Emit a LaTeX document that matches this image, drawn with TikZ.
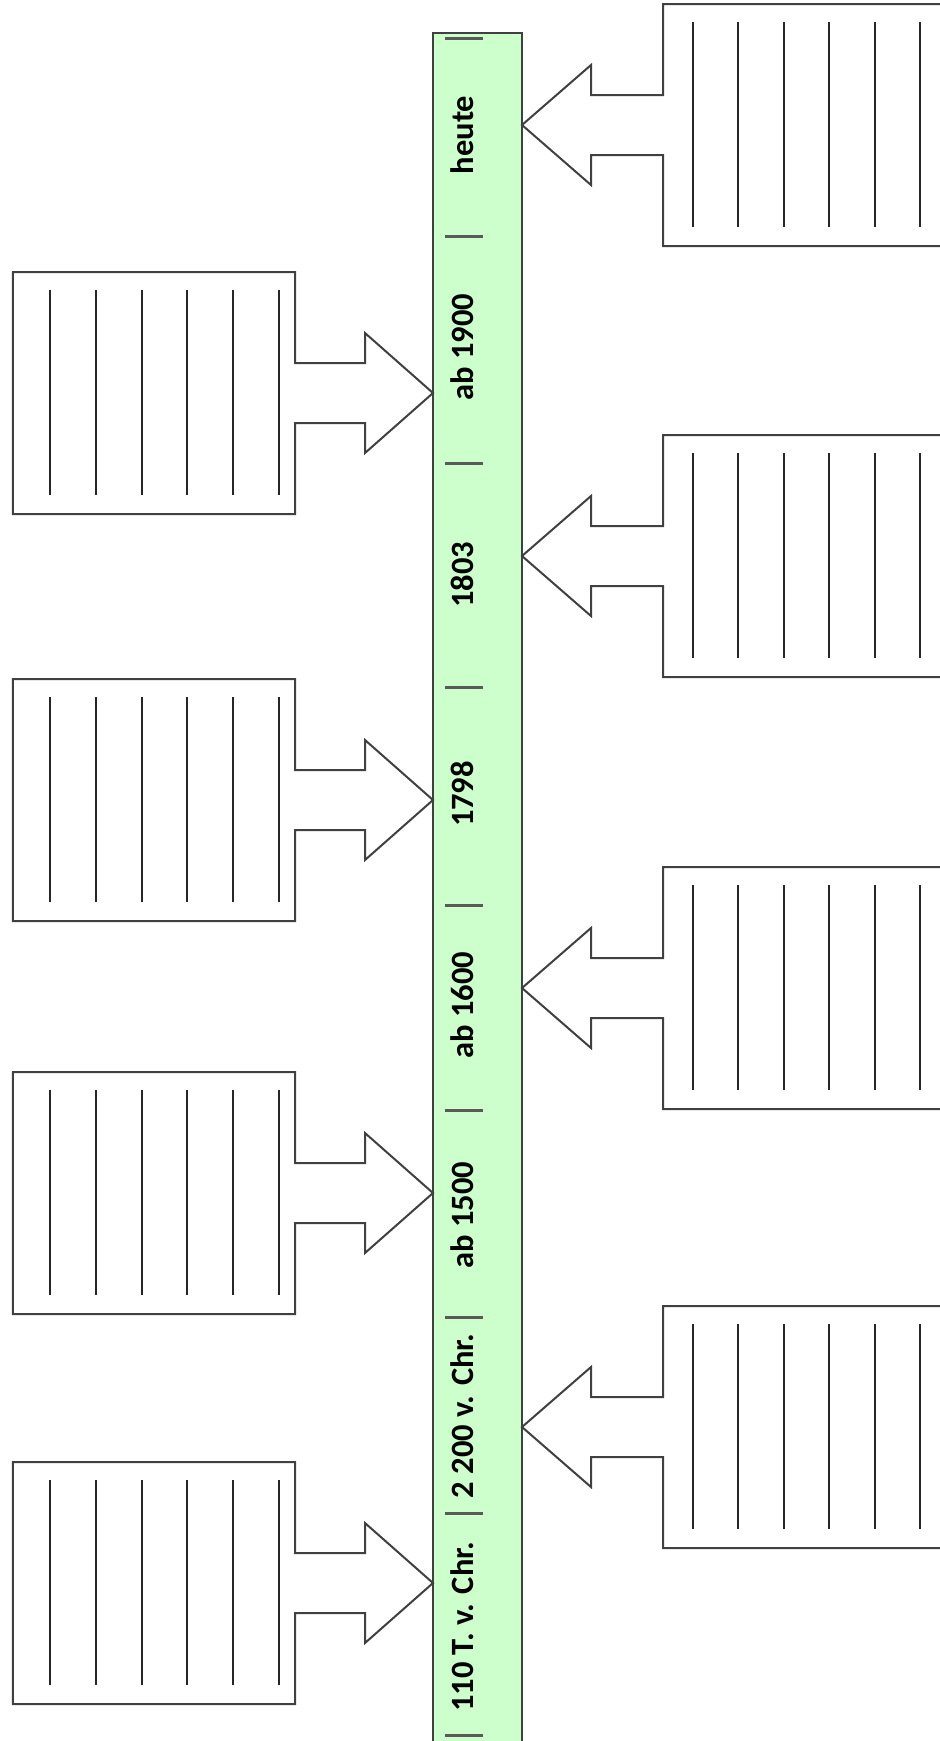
\documentclass[tikz,border=0pt]{standalone}
\usepackage{fontspec}
\setmainfont{Carlito}
\usetikzlibrary{calc}

\definecolor{barfill}{HTML}{CCFFCC}
\definecolor{edgegray}{HTML}{404040}

\tikzset{
  timebar/.style={draw=edgegray, line width=0.3mm, fill=barfill, minimum width=17.8mm,
    minimum height=349.4mm, inner sep=0pt, outer sep=0pt},
  notebox/.style={minimum width=56.4mm, minimum height=48.4mm, inner sep=0pt, outer sep=0pt},
  callout/.style={draw=edgegray, line width=0.4mm, fill=white, line join=miter},
  rule/.style={line width=0.4mm, black!85},
  tick/.style={line width=0.6mm, black!65},
  datelabel/.style={rotate=90, anchor=base, inner sep=0pt,
    font=\fontsize{18.5pt}{22pt}\selectfont\bfseries}
}

\begin{document}
\begin{tikzpicture}[x=0.2mm, y=-0.2mm]
  \useasboundingbox (0,0) rectangle (939,1741);

  % the time line
  \node[timebar] (bar) at (477.5,906.5) {};

  % notes on the left, arrows pointing right
  \foreach \name/\yc in {l1/393, l2/800, l3/1193, l4/1583} {
    \node[notebox] (\name) at (154,\yc) {};
    \coordinate (\name-tip) at (bar.west |- \name.east);
    \draw[callout] ($(\name.east)+(0,-30)$) -- (\name.north east) -- (\name.north west)
      -- (\name.south west) -- (\name.south east) -- ($(\name.east)+(0,30)$)
      -- ($(\name-tip)+(-68,30)$) -- ($(\name-tip)+(-68,60)$) -- (\name-tip)
      -- ($(\name-tip)+(-68,-60)$) -- ($(\name-tip)+(-68,-30)$) -- cycle;
    \foreach \k in {0,...,5}
      \draw[rule] ($(\name.north west)+(37+45.8*\k,18)$) -- ($(\name.south west)+(37+45.8*\k,-19)$);
  }

  % notes on the right, arrows pointing left
  \foreach \name/\yc in {r1/125, r2/556, r3/988, r4/1427} {
    \node[notebox] (\name) at (804,\yc) {};
    \coordinate (\name-tip) at (bar.east |- \name.west);
    \draw[callout] ($(\name.west)+(0,-30)$) -- (\name.north west) -- (\name.north east)
      -- (\name.south east) -- (\name.south west) -- ($(\name.west)+(0,30)$)
      -- ($(\name-tip)+(69,30)$) -- ($(\name-tip)+(69,60)$) -- (\name-tip)
      -- ($(\name-tip)+(69,-60)$) -- ($(\name-tip)+(69,-30)$) -- cycle;
    \foreach \k in {0,...,5}
      \draw[rule] ($(\name.north west)+(30+45.4*\k,18)$) -- ($(\name.south west)+(30+45.4*\k,-19)$);
  }

  % dates
  \foreach \txt/\yc [count=\i] in {heute/135, ab 1900/347, 1803/575, 1798/794,
      ab 1600/1005, ab 1500/1215, 2 200 v. Chr./1416, 110 T. v. Chr./1627}
    \node[datelabel] (date\i) at (473,\yc) {\txt};

  \foreach \ys in {38,236,463,687,905,1110,1317,1513,1735}
    \draw[tick] (445,\ys) -- (483,\ys);
\end{tikzpicture}
\end{document}
